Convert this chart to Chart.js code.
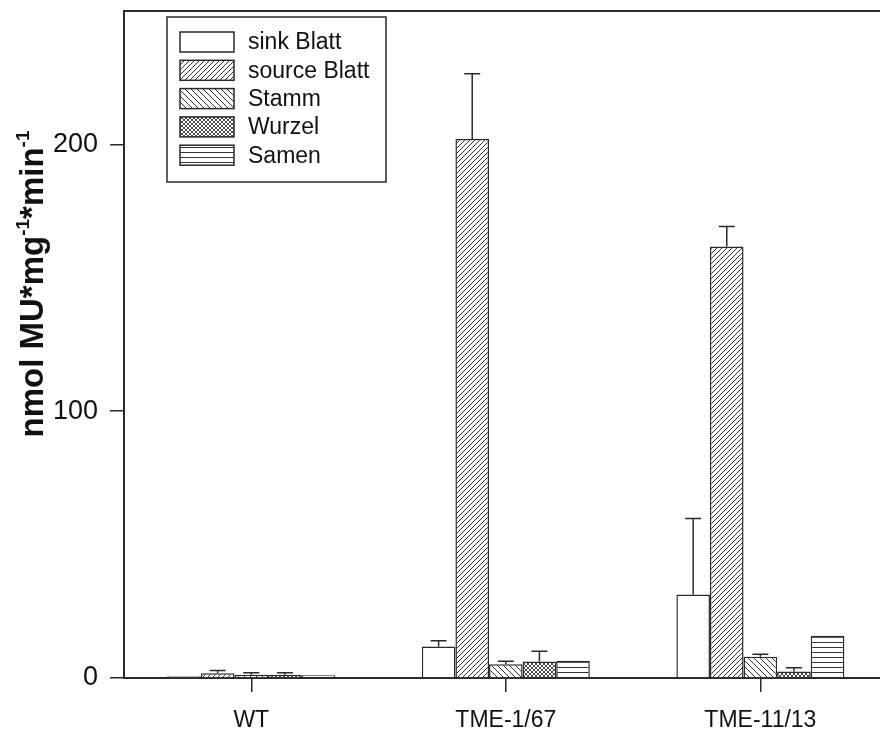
<!DOCTYPE html>
<html>
<head>
<meta charset="utf-8">
<script src="https://cdn.jsdelivr.net/npm/chart.js@4.4.1/dist/chart.umd.min.js"></script>
<style>
  html, body { margin: 0; padding: 0; background: #fff; }
  canvas { display: block; }
</style>
</head>
<body>
<canvas id="chart" width="880" height="731"></canvas>
<script>
// Data
const categories = ['WT', 'TME-1/67', 'TME-11/13'];
const seriesNames = ['sink Blatt', 'source Blatt', 'Stamm', 'Wurzel', 'Samen'];

const sinkBlatt = [0.7, 11.8, 31.3];
const sourceBlatt = [1.8, 202, 161.7];
const stamm = [1.2, 5.2, 8.0];
const wurzel = [1.2, 6.2, 2.4];
const samen = [1.0, 6.5, 15.8];

// upper error bars (only the + side is drawn)
const sinkBlattErr = [0, 2.2, 28.5];
const sourceBlattErr = [1.0, 24.5, 7.5];
const stammErr = [0.8, 1.1, 0.9];
const wurzelErr = [0.8, 3.8, 1.4];
const samenErr = [0, 0, 0];

const yTicks = [0, 100, 200];

const FONT = "'Liberation Sans', Arial, sans-serif";
const INK = '#2a2a2a';

// hatch patterns -----
function makePattern(size, draw) {
    const c = document.createElement('canvas');
    c.width = size;
    c.height = size;
    const g = c.getContext('2d');
    g.fillStyle = '#fff';
    g.fillRect(0, 0, size, size);
    g.strokeStyle = '#333';
    g.lineWidth = 1;
    draw(g, size);
    return g.createPattern(c, 'repeat');
}

const ctx = document.getElementById('chart').getContext('2d');

const slashPattern = makePattern(5, (g, s) => { //  "/" lines
    g.beginPath();
    g.moveTo(0, s); g.lineTo(s, 0);
    g.moveTo(-1, 1); g.lineTo(1, -1);
    g.moveTo(s - 1, s + 1); g.lineTo(s + 1, s - 1);
    g.stroke();
});
const backslashPattern = makePattern(6, (g, s) => { // "\" lines
    g.beginPath();
    g.moveTo(0, 0); g.lineTo(s, s);
    g.moveTo(-1, s - 1); g.lineTo(1, s + 1);
    g.moveTo(s - 1, -1); g.lineTo(s + 1, 1);
    g.stroke();
});
const crossPattern = makePattern(4, (g, s) => { // fine cross hatch
    g.lineWidth = 0.9;
    g.beginPath();
    g.moveTo(0, 0); g.lineTo(s, s);
    g.moveTo(0, s); g.lineTo(s, 0);
    g.stroke();
});
const horizPattern = makePattern(5, (g, s) => { // horizontal lines
    g.beginPath();
    g.moveTo(0, 2.5); g.lineTo(s, 2.5);
    g.stroke();
});

const fills = ['#ffffff', slashPattern, backslashPattern, crossPattern, horizPattern];
const values = [sinkBlatt, sourceBlatt, stamm, wurzel, samen];
const errors = [sinkBlattErr, sourceBlattErr, stammErr, wurzelErr, samenErr];

const datasets = seriesNames.map((name, k) => ({
    label: name,
    data: values[k].map((v, i) => ({ x: i, y: v })),
    errors: errors[k],
    backgroundColor: fills[k],
    borderColor: INK,
    borderWidth: 1.5,
    categoryPercentage: 0.66,
    barPercentage: 1
}));

// error bars, top frame line, legend box and y title
const extrasPlugin = {
    id: 'extras',
    afterDatasetsDraw(chart) {
        const c = chart.ctx;
        const yScale = chart.scales.y;
        c.save();
        c.strokeStyle = INK;
        c.lineWidth = 1.5;
        chart.data.datasets.forEach((ds, k) => {
            const meta = chart.getDatasetMeta(k);
            meta.data.forEach((bar, i) => {
                const e = ds.errors[i];
                if (!e) return;
                const top = yScale.getPixelForValue(ds.data[i].y + e);
                c.beginPath();
                c.moveTo(bar.x, bar.y);
                c.lineTo(bar.x, top);
                c.moveTo(bar.x - 8, top);
                c.lineTo(bar.x + 8, top);
                c.stroke();
            });
        });
        c.restore();
    },
    afterDraw(chart) {
        const c = chart.ctx;
        const a = chart.chartArea;
        c.save();
        // top frame line
        c.strokeStyle = INK;
        c.lineWidth = 2;
        c.beginPath();
        c.moveTo(a.left, a.top);
        c.lineTo(a.right, a.top);
        c.stroke();

        // legend
        const lx = 167, ly = 17, lw = 219, lh = 165;
        c.lineWidth = 1.5;
        c.fillStyle = '#fff';
        c.fillRect(lx, ly, lw, lh);
        c.strokeRect(lx, ly, lw, lh);
        c.font = '23px ' + FONT;
        c.textBaseline = 'middle';
        c.textAlign = 'left';
        chart.data.datasets.forEach((ds, k) => {
            const sy = 32 + k * 28.3;
            c.fillStyle = ds.backgroundColor;
            c.fillRect(180, sy, 54, 20);
            c.strokeRect(180, sy, 54, 20);
            c.fillStyle = '#111';
            c.fillText(ds.label, 248, sy + 11);
        });

        // y axis title with superscripts
        const parts = [['nmol MU*mg', false], ['-1', true], ['*min', false], ['-1', true]];
        const big = 'bold 33px ' + FONT;
        const small = 'bold 19px ' + FONT;
        let total = 0;
        parts.forEach(p => { c.font = p[1] ? small : big; total += c.measureText(p[0]).width; });
        c.translate(43, 284);
        c.rotate(-Math.PI / 2);
        c.fillStyle = '#111';
        c.textBaseline = 'alphabetic';
        let x = -total / 2;
        parts.forEach(p => {
            c.font = p[1] ? small : big;
            c.fillText(p[0], x, p[1] ? -14 : 0);
            x += c.measureText(p[0]).width;
        });
        c.restore();
    }
};

const chart = new Chart(ctx, {
    type: 'bar',
    data: { datasets: datasets },
    options: {
        responsive: false,
        animation: false,
        devicePixelRatio: 1,
        layout: { padding: { top: 11, left: 0, right: 0, bottom: 0 } },
        plugins: {
            legend: { display: false },
            tooltip: { enabled: false }
        },
        scales: {
            x: {
                type: 'linear',
                offset: false,
                min: -0.5,
                max: 2.47,
                afterBuildTicks: (scale) => { scale.ticks = categories.map((c, i) => ({ value: i })); },
                afterFit: (scale) => { scale.height = 53; scale.paddingLeft = 0; scale.paddingRight = 0; },
                grid: { offset: false, drawOnChartArea: false, tickLength: 14, color: INK, lineWidth: 1.5 },
                border: { display: true, color: INK, width: 2 },
                ticks: {
                    autoSkip: false,
                    maxRotation: 0,
                    padding: 15,
                    color: '#111',
                    font: { family: FONT, size: 23 },
                    callback: (v) => categories[v]
                }
            },
            y: {
                min: 0,
                max: 250,
                afterBuildTicks: (scale) => { scale.ticks = yTicks.map(v => ({ value: v })); },
                afterFit: (scale) => { scale.width = 124; scale.paddingTop = 0; scale.paddingBottom = 0; },
                grid: { drawOnChartArea: false, tickLength: 14, color: INK, lineWidth: 1.5 },
                border: { display: true, color: INK, width: 2 },
                ticks: {
                    padding: 12,
                    color: '#111',
                    font: { family: FONT, size: 27 }
                }
            }
        }
    },
    plugins: [extrasPlugin]
});
</script>
</body>
</html>
